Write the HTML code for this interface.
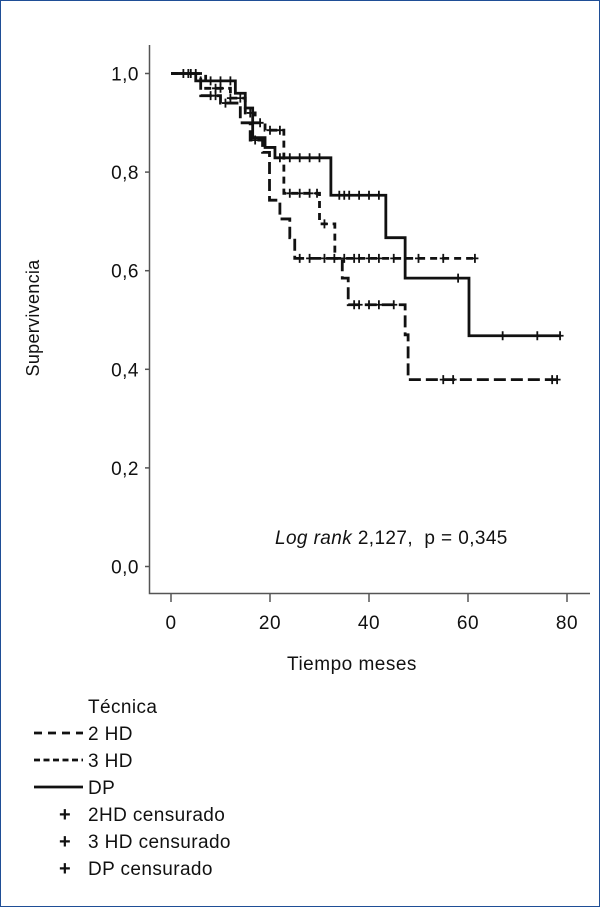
<!DOCTYPE html>
<html><head><meta charset="utf-8"><style>
html,body{margin:0;padding:0;background:#fff}
#wrap{position:relative;width:598px;height:905px;border:1px solid #1f4e96;overflow:hidden}
svg{position:absolute;left:0;top:0}
text{font-family:"Liberation Sans",sans-serif;fill:#111}
</style></head><body>
<div id="wrap">
<svg id="chart" width="598" height="905"></svg>
</div>
<script>
const xTicks=[0,20,40,60,80];
const yTicks=[0,0.2,0.4,0.6,0.8,1.0];
const yTickLabels=["0,0","0,2","0,4","0,6","0,8","1,0"];
const dpTimes=[0,5,13,15,16.5,19,21,32.3,43.4,47.3,60.2];
const dpSurv=[1,0.985,0.96,0.93,0.87,0.85,0.829,0.753,0.667,0.585,0.468];
const dpEnd=78.6;
const hd3Times=[0,7,12,15,17,19,22.8,30,33.1];
const hd3Surv=[1,0.97,0.95,0.92,0.9,0.885,0.757,0.695,0.625];
const hd3End=61.4;
const hd2Times=[0,6,10,14,16,18.5,19.9,22,24,25,34.6,35.8,47.3,47.9];
const hd2Surv=[1,0.955,0.94,0.9,0.865,0.84,0.743,0.705,0.667,0.625,0.585,0.531,0.47,0.379];
const hd2End=78.6;
const dpCens=[2.5,3.5,6,8,10,12,22,24,26,28,30,34,35,36,38,40,42,58,67,74,78.6];
const hd3Cens=[9,10,12,14,16,18,20,22,24,26,28,29.5,31,35,37,38,40,42,45,50,55,61.4];
const hd2Cens=[4,5,8,9,11,17,26,28,31,33,37,38,40,42,45,55,57,77,78];

const NS='http://www.w3.org/2000/svg';
const svg=document.getElementById('chart');
function X(t){return 170+t*4.95;}
function Y(s){return 565.5-s*493;}
function mk(tag,attrs,parent){const e=document.createElementNS(NS,tag);for(const k in attrs)e.setAttribute(k,attrs[k]);(parent||svg).appendChild(e);return e;}

let ax=mk('path',{d:'M148.5,44 V592.5 H589',stroke:'#555',fill:'none','stroke-width':1.5});


xTicks.forEach(v=>{
 let t=mk('line',{x1:X(v),x2:X(v),y1:593,y2:601,stroke:'#555','stroke-width':1.5});
 
 
 let l=mk('text',{x:X(v),y:628,'text-anchor':'middle','font-size':19,'letter-spacing':0.5});
 l.textContent=v;
 
 
});
yTicks.forEach((v,i)=>{
 let t=mk('line',{x1:144,x2:148.5,y1:Y(v),y2:Y(v),stroke:'#555','stroke-width':1.5});
 
 
 let l=mk('text',{x:138,y:Y(v)+7,'text-anchor':'end','font-size':19,'letter-spacing':0.5});
 l.textContent=yTickLabels[i];
 
 
});
function stepPath(ts,ss,end){
 let d='M'+X(ts[0])+','+Y(ss[0]);
 for(let i=1;i<ts.length;i++){d+=' H'+X(ts[i])+' V'+Y(ss[i]);}
 return d+' H'+X(end);
}
function survAt(ts,ss,t){let s=ss[0];for(let i=0;i<ts.length;i++){if(ts[i]<=t)s=ss[i];}return s;}
function series(ts,ss,end,cens,dash,name){
 let p=mk('path',{d:stepPath(ts,ss,end),stroke:'#111',fill:'none','stroke-width':2.8,'stroke-dasharray':dash});
 
 
 cens.forEach(t=>{
  const x=X(t),y=Y(survAt(ts,ss,t));
  let c=mk('path',{d:'M'+(x-3.5)+','+y+' H'+(x+3.5)+' M'+x+','+(y-4.5)+' V'+(y+4.5),stroke:'#111','stroke-width':1.8});
  
  
 });
}
series(hd2Times,hd2Surv,hd2End,hd2Cens,'12,5','hd2');
series(hd3Times,hd3Surv,hd3End,hd3Cens,'7,5','hd3');
series(dpTimes,dpSurv,dpEnd,dpCens,'none','dp');
</script>
<svg width="598" height="905" style="pointer-events:none">
<text x="275" y="544" font-size="19" letter-spacing="0.4"><tspan font-style="italic">Log rank</tspan> 2,127,&#160;&#160;p = 0,345</text>
<text x="0" y="0" font-size="18" letter-spacing="0.3" text-anchor="middle" transform="translate(39,318) rotate(-90)">Supervivencia</text>
<text x="352" y="670" font-size="19" letter-spacing="0.5" text-anchor="middle">Tiempo meses</text>
<g font-size="19" letter-spacing="0.4">
<text x="88" y="713">Técnica</text>
<line x1="34" y1="733" x2="83" y2="733" stroke="#111" stroke-width="2.8" stroke-dasharray="8,6"/>
<text x="88" y="740">2 HD</text>
<line x1="34" y1="760" x2="83" y2="760" stroke="#111" stroke-width="2.8" stroke-dasharray="6,3.5"/>
<text x="88" y="767">3 HD</text>
<line x1="34" y1="787" x2="83" y2="787" stroke="#111" stroke-width="2.8"/>
<text x="88" y="794">DP</text>
<text x="59" y="821" font-size="20" font-weight="bold">+</text>
<text x="88" y="821">2HD censurado</text>
<text x="59" y="848" font-size="20" font-weight="bold">+</text>
<text x="88" y="848">3 HD censurado</text>
<text x="59" y="875" font-size="20" font-weight="bold">+</text>
<text x="88" y="875">DP censurado</text>
</g>
</svg>
</body></html>
